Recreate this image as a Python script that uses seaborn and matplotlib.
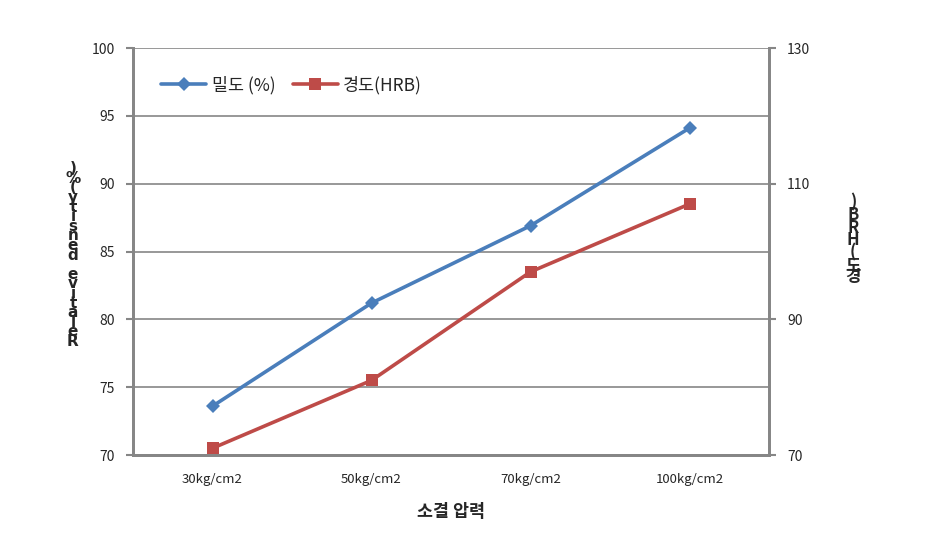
import matplotlib.pyplot as plt
import seaborn as sns
import pandas as pd

pressure = ["30kg/cm2", "50kg/cm2", "70kg/cm2", "100kg/cm2"]
density = [73.6, 81.2, 86.9, 94.1]
hardness = [71.0, 81.0, 97.0, 107.0]

df = pd.DataFrame({"pressure": pressure, "density": density, "hardness": hardness})

sns.set_style("white")
plt.rcParams['font.family'] = ['Noto Sans CJK KR', 'DejaVu Sans']

blue = "#4A7EBB"
red = "#BE4B48"
grid = "#868686"

fig = plt.figure(figsize=(9.26, 5.43), dpi=100)
ax = fig.add_axes([133 / 926, 1 - 455 / 543, (769 - 133) / 926, (455 - 48) / 543])
ax2 = ax.twinx()

x = list(range(len(pressure)))
sns.lineplot(x=x, y=df["density"], ax=ax, color=blue, lw=2.6, marker="D",
             markersize=7, markeredgewidth=0, label="밀도 (%)", legend=False)
sns.lineplot(x=x, y=df["hardness"], ax=ax2, color=red, lw=2.6, marker="s",
             markersize=8, markeredgewidth=0, label="경도(HRB)", legend=False)

ax.set_xlim(-0.5, 3.5)
ax.set_ylim(70, 100)
ax2.set_ylim(70, 130)
ax.set_yticks(range(70, 101, 5))
ax2.set_yticks(range(70, 131, 20))

ax.set_xticks(x)
ax.set_xticklabels(pressure, fontsize=9.5)
ax.set_xticks([-0.5, 0.5, 1.5, 2.5, 3.5], minor=True)
ax.tick_params(axis="x", which="major", length=0, pad=13)
ax.tick_params(axis="x", which="minor", length=5, width=1.5, color=grid, direction="out")
ax.tick_params(axis="y", length=5, width=1.5, color=grid, direction="out", labelsize=10, pad=8)
ax2.tick_params(axis="y", length=5, width=1.5, color=grid, direction="out", labelsize=10, pad=8)

ax.yaxis.grid(True, color=grid, lw=1.2)
ax.set_axisbelow(True)
for a in (ax, ax2):
    a.spines["top"].set_visible(False)
    for s in ("left", "right", "bottom"):
        a.spines[s].set_color(grid)
        a.spines[s].set_linewidth(2)
ax2.patch.set_visible(False)

ax.set_xlabel("소결 압력", fontsize=12.5, fontweight="bold", labelpad=12)
ax.set_ylabel("")
ax2.set_ylabel("")

# stacked vertical axis titles
left_title = "Relative density(%)"
right_title = "경도(HRB)"
fig.text(73 / 926, 1 - 255 / 543, "\n".join(reversed(left_title)), ha="center", va="center",
         fontsize=11, fontweight="bold", linespacing=0.55, family=['DejaVu Sans'])
fig.text(853 / 926, 1 - 240 / 543, "\n".join(reversed(right_title)), ha="center", va="center",
         fontsize=12, fontweight="bold", linespacing=0.6)

h1, l1 = ax.get_legend_handles_labels()
h2, l2 = ax2.get_legend_handles_labels()
ax.legend(h1 + h2, l1 + l2, loc="upper left", bbox_to_anchor=(0.02, 0.97), ncol=2,
          frameon=False, fontsize=12.5, handlelength=2.6, columnspacing=1.0, handletextpad=0.3)

fig.savefig("out.png", dpi=100)
